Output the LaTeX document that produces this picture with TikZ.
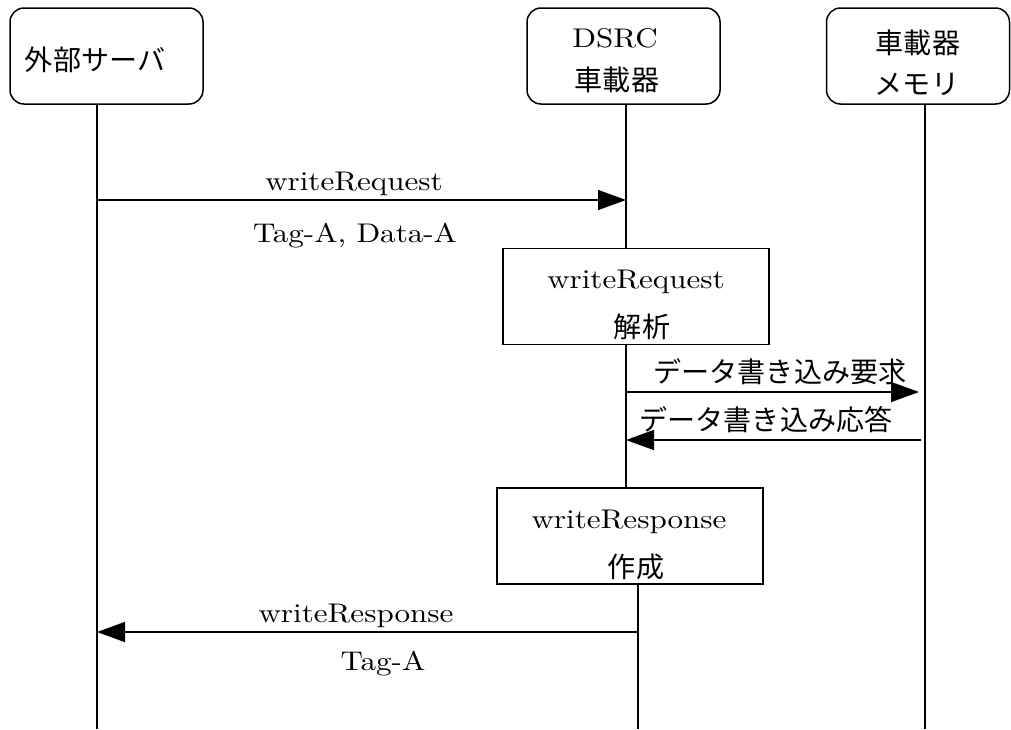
\documentclass[tikz,border=0pt]{standalone}
\usepackage{fontspec}
\setmainfont{lmroman10-regular.otf}[FakeStretch=1.15]
\newfontfamily\jp{Noto Sans CJK JP}[Scale=1.04]
\usetikzlibrary{arrows.meta}
\begin{document}
\begin{tikzpicture}[x=1pt,y=-1pt,
  actor/.style={draw, rounded corners=14pt, line width=1.5pt, minimum height=96pt, inner sep=0pt},
  proc/.style={draw, line width=1.5pt, minimum width=266pt, minimum height=96pt, inner sep=0pt},
  life/.style={line width=1.5pt},
  msg/.style={line width=1.5pt, -{Triangle[length=28pt,width=20pt]}},
  lbl/.style={inner sep=0pt, anchor=base, font=\fontsize{27}{32}\selectfont},
  jlbl/.style={inner sep=0pt, font=\fontsize{27}{32}\selectfont\jp}]
\useasboundingbox (0,0) rectangle (1011,729);
% actors
\node[actor, minimum width=193pt] (srv) at (106.5,56) {};
\node[actor, minimum width=193pt] (dsrc) at (623.5,56) {};
\node[actor, minimum width=183pt] (mem) at (918,56) {};
\node[jlbl] (srvt) at (95,60) {外部サーバ};
\node[lbl] (dsrct) at (615,47) {DSRC};
\node[jlbl] (dsrcj) at (617,80) {車載器};
\node[jlbl] (memt) at (918,43) {車載器};
\node[jlbl] (memj) at (917,84) {メモリ};
% process boxes
\node[proc] (ana) at (636,296.5) {};
\node[proc] (mk) at (630,536) {};
\node[lbl] (anat) at (636,288) {writeRequest};
\node[jlbl] (anaj) at (642,327) {解析};
\node[lbl] (mkt) at (629,528) {writeResponse};
\node[jlbl] (mkj) at (636,567) {作成};
% lifeline coordinates
\coordinate (s1) at (97,104);  \coordinate (s2) at (97,729);
\coordinate (d1) at (626,104); \coordinate (d2) at (626,248);
\coordinate (d3) at (626,345); \coordinate (d4) at (626,488);
\coordinate (d5) at (638,584); \coordinate (d6) at (638,729);
\coordinate (m1) at (925,104); \coordinate (m2) at (925,729);
\draw[life] (s1) -- (s2);
\draw[life] (d1) -- (d2);
\draw[life] (d3) -- (d4);
\draw[life] (d5) -- (d6);
\draw[life] (m1) -- (m2);
% messages
\coordinate (a1s) at (97,200);  \coordinate (a1e) at (626,200);
\coordinate (a2s) at (626,392); \coordinate (a2e) at (919,392);
\coordinate (a3s) at (921,440); \coordinate (a3e) at (626,440);
\coordinate (a4s) at (638,632); \coordinate (a4e) at (97,632);
\draw[msg] (a1s) -- (a1e);
\draw[msg] (a2s) -- (a2e);
\draw[msg] (a3s) -- (a3e);
\draw[msg] (a4s) -- (a4e);
% labels
\node[lbl] (l1) at (354,190) {writeRequest};
\node[lbl] (l2) at (355,242) {Tag-A, Data-A};
\node[jlbl] (l3) at (780,372) {データ書き込み要求};
\node[jlbl] (l4) at (766,420) {データ書き込み応答};
\node[lbl] (l5) at (356,622) {writeResponse};
\node[lbl] (l6) at (383,670) {Tag-A};
\end{tikzpicture}
\end{document}
